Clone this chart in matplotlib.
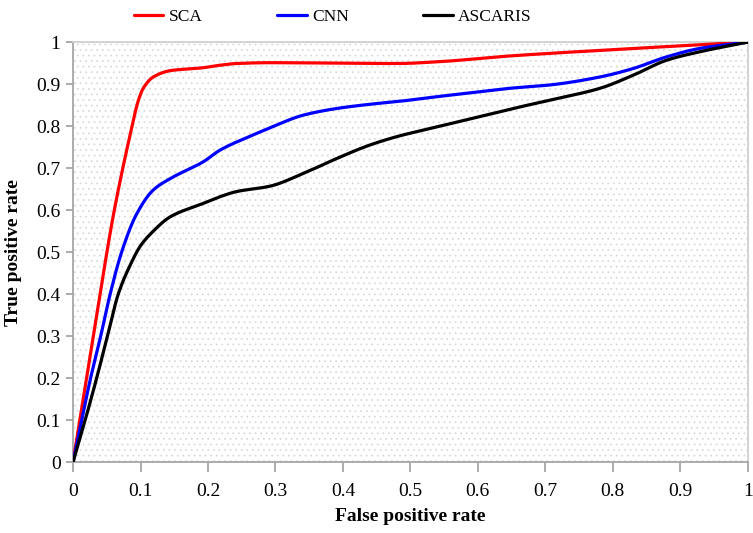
import numpy as np
import matplotlib
matplotlib.use("Agg")
import matplotlib.pyplot as plt
from matplotlib.patches import Rectangle

plt.rcParams['font.family'] = ['Liberation Serif', 'DejaVu Serif']

fpr_sca = [0, 0.02, 0.04, 0.06, 0.084, 0.097, 0.104, 0.119, 0.144, 0.193, 0.218, 0.242,
           0.292, 0.48, 0.539, 0.647, 0.8, 1.0]
tpr_sca = [0, 0.2, 0.4, 0.59, 0.775, 0.862, 0.89, 0.917, 0.932, 0.939, 0.945, 0.949,
           0.951, 0.949, 0.953, 0.967, 0.982, 1.0]

fpr_cnn = [0, 0.0128, 0.026, 0.041, 0.055, 0.072, 0.094, 0.119, 0.144, 0.193, 0.218, 0.267,
           0.292, 0.341, 0.391, 0.44, 0.489, 0.539, 0.588, 0.647, 0.707, 0.781, 0.83, 0.88,
           0.929, 1.0]
tpr_cnn = [0, 0.1, 0.2, 0.3, 0.4, 0.5, 0.59, 0.648, 0.675, 0.715, 0.743, 0.779,
           0.796, 0.826, 0.842, 0.852, 0.86, 0.87, 0.879, 0.89, 0.898, 0.917, 0.937, 0.965,
           0.985, 1.0]

fpr_asc = [0, 0.018, 0.035, 0.051, 0.067, 0.085, 0.1, 0.119, 0.144, 0.193, 0.218, 0.242, 0.292,
           0.341, 0.391, 0.44, 0.48, 0.539, 0.588, 0.647, 0.707, 0.781, 0.83, 0.88, 0.929, 1.0]
tpr_asc = [0, 0.1, 0.2, 0.3, 0.4, 0.47, 0.515, 0.55, 0.584, 0.616, 0.632, 0.644, 0.657,
           0.687, 0.723, 0.755, 0.775, 0.798, 0.817, 0.84, 0.862, 0.89, 0.921, 0.957, 0.977, 1.0]

labels = ['SCA', 'CNN', 'ASCARIS']
colors = ['#ff0000', '#0000ff', '#000000']
ticks = [0, 0.1, 0.2, 0.3, 0.4, 0.5, 0.6, 0.7, 0.8, 0.9, 1]
tick_labels = ['0', '0.1', '0.2', '0.3', '0.4', '0.5', '0.6', '0.7', '0.8', '0.9', '1']


def pchip(x, y, n=30):
    # monotone cubic rendering of the line through the data points
    x = np.asarray(x, float); y = np.asarray(y, float)
    h = np.diff(x); d = np.diff(y) / h
    m = np.zeros_like(y)
    for k in range(1, len(x) - 1):
        if d[k - 1] * d[k] > 0:
            w1 = 2 * h[k] + h[k - 1]; w2 = h[k] + 2 * h[k - 1]
            m[k] = (w1 + w2) / (w1 / d[k - 1] + w2 / d[k])
    m[0] = d[0]; m[-1] = d[-1]
    xs, ys = [], []
    for k in range(len(x) - 1):
        t = np.linspace(0, 1, n)
        h00 = 2 * t**3 - 3 * t**2 + 1; h10 = t**3 - 2 * t**2 + t
        h01 = -2 * t**3 + 3 * t**2; h11 = t**3 - t**2
        yy = h00 * y[k] + h10 * h[k] * m[k] + h01 * y[k + 1] + h11 * h[k] * m[k + 1]
        xx = x[k] + t * h[k]
        if k > 0:
            xx, yy = xx[1:], yy[1:]
        xs.append(xx); ys.append(yy)
    return np.concatenate(xs), np.concatenate(ys)


fig = plt.figure(figsize=(7.53, 5.33), dpi=100)
ax = fig.add_axes([0.097, 0.133, 0.896, 0.788])

plt.rcParams['hatch.linewidth'] = 0.6
bg = Rectangle((0, 0), 1, 1, transform=ax.transAxes, facecolor='white',
               edgecolor='#dadada', lw=0, hatch='...', zorder=0)
ax.add_patch(bg)

for xs, ys, lab, c in [(fpr_sca, tpr_sca, labels[0], colors[0]),
                       (fpr_cnn, tpr_cnn, labels[1], colors[1]),
                       (fpr_asc, tpr_asc, labels[2], colors[2])]:
    sx, sy = pchip(xs, ys)
    ax.plot(sx, sy, color=c, lw=2.3, label=lab, zorder=3, solid_capstyle='round')

ax.set_xlim(0, 1)
ax.set_ylim(0, 1)
ax.set_xticks(ticks)
ax.set_xticklabels(tick_labels, fontsize=14)
ax.set_yticks(ticks)
ax.set_yticklabels(tick_labels, fontsize=14)
for s in ax.spines.values():
    s.set_color('#a6a6a6')
    s.set_linewidth(1.3)
ax.spines['top'].set_color('#d0d0d0')
ax.spines['right'].set_color('#d0d0d0')
ax.tick_params(axis='x', direction='out', length=7, width=1.3, color='#a6a6a6', pad=8)
ax.tick_params(axis='y', direction='out', length=5, width=1.3, color='#a6a6a6', pad=4)

ax.set_xlabel('False positive rate', fontsize=14, fontweight='bold', labelpad=6)
ax.set_ylabel('True positive rate', fontsize=14, fontweight='bold', labelpad=10)

fig.legend(loc='upper left', bbox_to_anchor=(0.157, 1.012), ncol=3, frameon=False,
           fontsize=12.5, handlelength=1.7, handletextpad=0.3, columnspacing=4.3)

fig.savefig('out.png', dpi=100)
